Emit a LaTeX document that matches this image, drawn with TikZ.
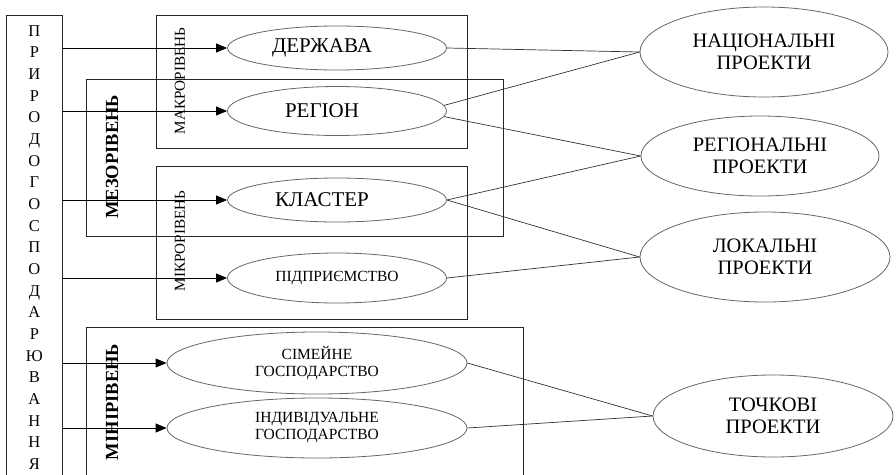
\documentclass[tikz,border=0pt]{standalone}
\usepackage{fontspec}
\setmainfont{Liberation Serif}
\usetikzlibrary{
  shapes.geometric,
  arrows.meta
}
\newcommand\padright{\hspace*{30pt}}

\begin{document}
\begin{tikzpicture}[
  x=1pt, y=-1pt,
  every node/.style={inner sep=0pt},
  frame/.style={draw=black!85, line width=0.8pt, anchor=north west},
  lvl/.style={rotate=90, font=\fontsize{15.2}{15}\selectfont},
  lvlbold/.style={rotate=90, font=\bfseries\fontsize{18.5}{18}\selectfont},
  unit/.style={ellipse, draw=black!60, line width=0.8pt, align=center,
    minimum width=219, minimum height=44, font=\fontsize{21}{22}\selectfont},
  smallunit/.style={unit, font=\fontsize{15.5}{17}\selectfont},
  project/.style={ellipse, draw=black!60, line width=0.8pt, align=center,
    minimum width=248, minimum height=88, font=\fontsize{20.5}{21.5}\selectfont},
  feed/.style={-{Triangle[length=11pt,width=9pt]}, line width=0.8pt},
  link/.style={draw=black!80, line width=0.7pt}
  ]
\clip (0,0) rectangle (896,474);
% left column
\node[frame, minimum width=56, minimum height=464, align=center,
  font=\fontsize{16.5}{21.65}\selectfont] (prp) at (6,15)
  {П\\Р\\И\\Р\\О\\Д\\О\\Г\\О\\С\\П\\О\\Д\\А\\Р\\Ю\\В\\А\\Н\\Н\\Я};
% level frames
\node[frame, minimum width=311, minimum height=133] (makro) at (156,15) {};
\node[frame, minimum width=417, minimum height=157] (mezo) at (86,79) {};
\node[frame, minimum width=311, minimum height=153] (mikro) at (156,166) {};
\node[frame, minimum width=437, minimum height=160] (mini) at (86,327) {};
\node[lvl] (makrolab) at (180,81) {МАКРОРІВЕНЬ};
\node[lvlbold] (mezolab) at (112,157) {МЕЗОРІВЕНЬ};
\node[lvl] (mikrolab) at (180,241) {МІКРОРІВЕНЬ};
\node[lvlbold] (minilab) at (112,402) {МІНІРІВЕНЬ};
% units
\node[unit] (derzh) at (337,48) {ДЕРЖАВА\padright};
\node[unit, minimum height=49] (region) at (337,111) {РЕГІОН\padright};
\node[unit] (klaster) at (337,200) {КЛАСТЕР\padright};
\node[smallunit, minimum height=50] (pidpr) at (337,278) {ПІДПРИЄМСТВО};
\node[smallunit, minimum width=300, minimum height=62] (simeine) at (317,363) {СІМЕЙНЕ\\ГОСПОДАРСТВО};
\node[smallunit, minimum width=300, minimum height=60] (indyv) at (317,428) {ІНДИВІДУАЛЬНЕ\\ГОСПОДАРСТВО};
% projects
\node[project, minimum height=90] (nats) at (764,52) {НАЦІОНАЛЬНІ\\ПРОЕКТИ};
\node[project, minimum width=238, minimum height=80] (regp) at (760,156) {РЕГІОНАЛЬНІ\\ПРОЕКТИ};
\node[project, minimum width=250, minimum height=90] (lokp) at (765,257) {ЛОКАЛЬНІ\\ПРОЕКТИ};
\node[project, minimum width=240, minimum height=82] (tochk) at (773,416) {ТОЧКОВІ\\ПРОЕКТИ};
% arrows
\draw[feed] (prp.east |- derzh.west) -- (derzh.west);
\draw[feed] (prp.east |- region.west) -- (region.west);
\draw[feed] (prp.east |- klaster.west) -- (klaster.west);
\draw[feed] (prp.east |- pidpr.west) -- (pidpr.west);
\draw[feed] (prp.east |- simeine.west) -- (simeine.west);
\draw[feed] (prp.east |- indyv.west) -- (indyv.west);
% links
\draw[link] (derzh.east) -- (nats.west);
\draw[link] (region.3) -- (nats.west);
\draw[link] (region.-3) -- (regp.west);
\draw[link] (klaster.east) -- (regp.west);
\draw[link] (klaster.east) -- (lokp.west);
\draw[link] (pidpr.east) -- (lokp.west);
\draw[link] (simeine.east) -- (tochk.west);
\draw[link] (indyv.east) -- (tochk.west);
\end{tikzpicture}
\end{document}
